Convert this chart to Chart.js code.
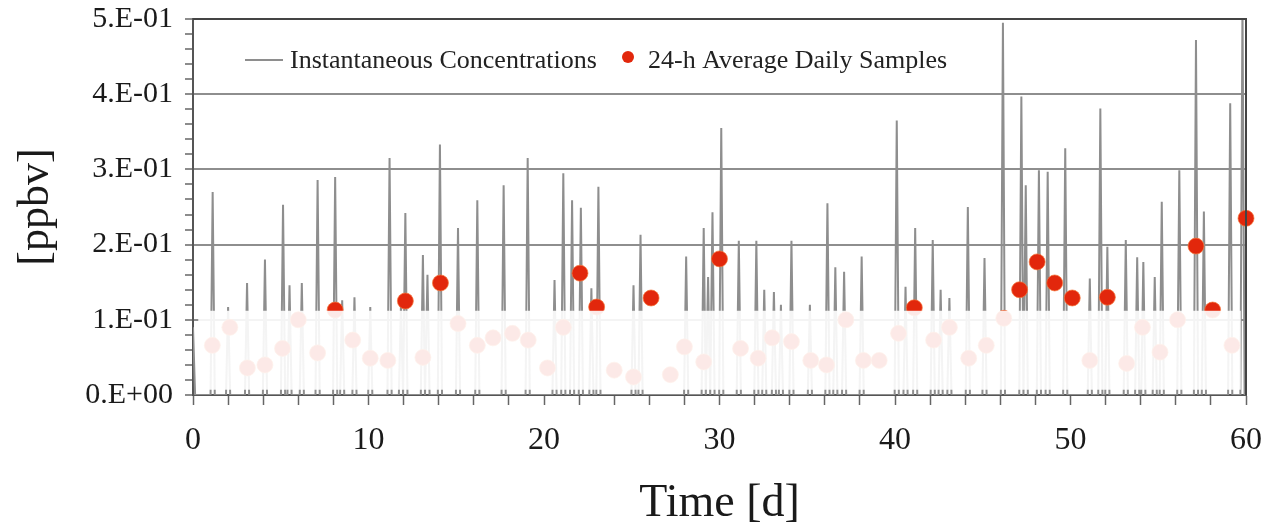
<!DOCTYPE html>
<html>
<head>
<meta charset="utf-8">
<script src="https://cdn.jsdelivr.net/npm/chart.js@4.4.1/dist/chart.umd.min.js"></script>
<style>
	html, body { margin: 0; padding: 0; background: #fff; }
	#caja { width: 1266px; height: 532px; }
</style>
</head>
<body>
<div id="caja"><canvas id="grafico" width="1266" height="532"></canvas></div>
<script>
// Concentraciones instantáneas: día del pico y valor del pico [ppbv]
const picoDia = [0, 1.12, 2.0, 3.08, 4.1, 5.13, 5.5, 6.2, 7.1, 8.1,
	8.5, 9.2, 10.1, 11.2, 11.85, 12.1, 13.1, 13.36, 14.07, 15.1,
	16.2, 17.7, 19.07, 20.6, 21.1, 21.6, 22.1, 22.7, 23.1, 25.1,
	25.5, 28.1, 29.1, 29.35, 29.6, 30.1, 31.1, 32.1, 32.55, 33.1,
	33.5, 34.1, 35.15, 36.15, 36.6, 37.1, 38.1, 40.1, 40.6, 41.15,
	42.15, 42.6, 43.1, 44.15, 45.1, 46.15, 47.2, 47.45, 48.2, 48.7,
	49.7, 51.1, 51.7, 52.1, 53.15, 53.8, 54.15, 54.8, 55.2, 56.2,
	57.15, 57.6, 59.1, 59.8];
const picoValor = [0.09, 0.270, 0.117, 0.149, 0.18, 0.253, 0.146, 0.149, 0.286, 0.29,
	0.126, 0.13, 0.117, 0.315, 0.12, 0.242, 0.186, 0.16, 0.333, 0.222,
	0.259, 0.279, 0.315, 0.153, 0.295, 0.259, 0.249, 0.142, 0.277, 0.146,
	0.213, 0.184, 0.222, 0.157, 0.243, 0.355, 0.205, 0.205, 0.14, 0.137,
	0.12, 0.205, 0.12, 0.255, 0.17, 0.164, 0.184, 0.365, 0.144, 0.222,
	0.206, 0.14, 0.129, 0.25, 0.182, 0.495, 0.397, 0.279, 0.299, 0.297,
	0.328, 0.155, 0.381, 0.197, 0.206, 0.183, 0.177, 0.157, 0.257, 0.299,
	0.472, 0.244, 0.388, 0.52];

// Promedios diarios de 24 h
const promDia = [1.1, 2.1, 3.1, 4.1, 5.1, 6.0, 7.1, 8.1, 9.1, 10.1,
	11.1, 12.1, 13.1, 14.1, 15.1, 16.2, 17.1, 18.2, 19.1, 20.2,
	21.1, 22.05, 23.0, 24.0, 25.1, 26.1, 27.2, 28.0, 29.1, 30.0,
	31.2, 32.2, 33.0, 34.1, 35.2, 36.1, 37.2, 38.2, 39.1, 40.2,
	41.1, 42.2, 43.1, 44.2, 45.2, 46.2, 47.1, 48.1, 49.1, 50.1,
	51.1, 52.1, 53.2, 54.1, 55.1, 56.1, 57.15, 58.1, 59.2, 60.0];
const promValor = [0.066, 0.09, 0.036, 0.04, 0.062, 0.10, 0.056, 0.113, 0.073, 0.049,
	0.046, 0.125, 0.05, 0.149, 0.095, 0.066, 0.076, 0.082, 0.073, 0.036,
	0.09, 0.162, 0.117, 0.033, 0.024, 0.129, 0.027, 0.064, 0.044, 0.181,
	0.062, 0.049, 0.076, 0.071, 0.046, 0.04, 0.10, 0.046, 0.046, 0.082,
	0.116, 0.073, 0.09, 0.049, 0.066, 0.102, 0.140, 0.177, 0.149, 0.129,
	0.046, 0.130, 0.042, 0.09, 0.057, 0.10, 0.198, 0.113, 0.066, 0.235];

const xEtiquetas = ['0', '10', '20', '30', '40', '50', '60'];
const yEtiquetas = ['0.E+00', '1.E-01', '2.E-01', '3.E-01', '4.E-01', '5.E-01'];
const leyendaTextos = ['Instantaneous Concentrations', '24-h Average Daily Samples'];

const FUENTE = '"Liberation Serif", "Times New Roman", serif';
const GRIS = '#8e8e8e';
const ROJO = '#e2270c';

// cada pico vuelve a la línea base (0) a ambos lados
const MEDIO_ANCHO = 0.12;
function armarSerie() {
	const pts = [];
	picoDia.forEach((d, i) => {
		pts.push({ x: d - MEDIO_ANCHO, y: 0 });
		pts.push({ x: d, y: picoValor[i] });
		pts.push({ x: d + MEDIO_ANCHO, y: 0 });
	});
	pts.sort((a, b) => a.x - b.x);
	return pts;
}

function esMayor(v) {
	return Math.round(v * 50) % 5 === 0;
}

// zona blanqueada de la figura original (entre 0.007 y 0.112)
const mascara = {
	id: 'mascara',
	afterDatasetsDraw(chart) {
		const { ctx, scales } = chart;
		const x0 = scales.x.getPixelForValue(0.3);
		const x1 = scales.x.getPixelForValue(59.7);
		const y0 = scales.y.getPixelForValue(0.112);
		const y1 = scales.y.getPixelForValue(0.007);
		ctx.save();
		ctx.fillStyle = 'rgba(255,255,255,0.9)';
		ctx.fillRect(x0, y0, x1 - x0, y1 - y0);
		ctx.restore();
	}
};

// marco derecho y leyenda dentro del área
const marcoYLeyenda = {
	id: 'marcoYLeyenda',
	afterDraw(chart) {
		const { ctx, chartArea } = chart;
		ctx.save();
		ctx.strokeStyle = '#444';
		ctx.lineWidth = 2;
		ctx.beginPath();
		ctx.moveTo(chartArea.left, chartArea.top);
		ctx.lineTo(chartArea.right, chartArea.top);
		ctx.lineTo(chartArea.right, chartArea.bottom);
		ctx.stroke();

		const yl = chartArea.top + 41;
		const xl = chartArea.left + 52;
		ctx.strokeStyle = GRIS;
		ctx.lineWidth = 2;
		ctx.beginPath();
		ctx.moveTo(xl, yl);
		ctx.lineTo(xl + 38, yl);
		ctx.stroke();
		ctx.font = '26px ' + FUENTE;
		ctx.fillStyle = '#222';
		ctx.textBaseline = 'middle';
		ctx.fillText(leyendaTextos[0], xl + 45, yl + 1);
		ctx.fillStyle = ROJO;
		ctx.beginPath();
		ctx.arc(chartArea.left + 435, yl - 3, 6, 0, Math.PI * 2);
		ctx.fill();
		ctx.fillStyle = '#222';
		ctx.fillText(leyendaTextos[1], chartArea.left + 455, yl + 1);
		ctx.restore();
	}
};

new Chart(document.getElementById('grafico'), {
	type: 'scatter',
	data: {
		datasets: [
			{
				label: leyendaTextos[1],
				data: promDia.map((d, i) => ({ x: d, y: promValor[i] })),
				backgroundColor: ROJO,
				borderColor: 'rgba(245,120,60,0.7)',
				borderWidth: 1,
				pointRadius: 8,
				clip: false
			},
			{
				label: leyendaTextos[0],
				data: armarSerie(),
				showLine: true,
				borderColor: GRIS,
				borderWidth: 2,
				pointRadius: 0,
				tension: 0
			}
		]
	},
	options: {
		responsive: false,
		animation: false,
		layout: { padding: { top: 19, right: 20, left: 0, bottom: 0 } },
		plugins: { legend: { display: false }, tooltip: { enabled: false } },
		scales: {
			x: {
				type: 'linear',
				min: 0, max: 60,
				afterFit: s => { s.height = 137; s.paddingLeft = 0; s.paddingRight = 0; },
				border: { color: '#555', width: 2 },
				grid: { drawOnChartArea: false, tickLength: 10, tickColor: '#666', tickWidth: 1.5 },
				ticks: {
					stepSize: 2, autoSkip: false, maxRotation: 0, padding: 16,
					color: '#1a1a1a', font: { family: FUENTE, size: 32 },
					callback: v => (v % 10 === 0 ? xEtiquetas[v / 10] : '')
				},
				title: {
					display: true, text: 'Time [d]', color: '#1a1a1a',
					font: { family: FUENTE, size: 46 }, padding: { top: 0, bottom: 0 }
				}
			},
			y: {
				min: 0, max: 0.5,
				afterFit: s => { s.width = 193; s.paddingTop = 0; s.paddingBottom = 0; },
				border: { color: '#555', width: 2 },
				grid: {
					color: c => {
						const v = c.tick.value;
						if (!esMayor(v) || v === 0) return 'rgba(0,0,0,0)';
						return v > 0.45 ? '#444' : GRIS;
					},
					lineWidth: 2,
					tickLength: 8, tickColor: '#666', tickWidth: 1.5
				},
				ticks: {
					stepSize: 0.02, autoSkip: false, padding: 12,
					color: '#1a1a1a', font: { family: FUENTE, size: 30, lineHeight: 1.0 },
					callback: v => (esMayor(v) ? yEtiquetas[Math.round(v * 10)] : '')
				},
				title: {
					display: true, text: '[ppbv]', color: '#1a1a1a',
					font: { family: FUENTE, size: 44 }, padding: { top: 10, bottom: 8 }
				}
			}
		}
	},
	plugins: [mascara, marcoYLeyenda]
});
</script>
</body>
</html>
